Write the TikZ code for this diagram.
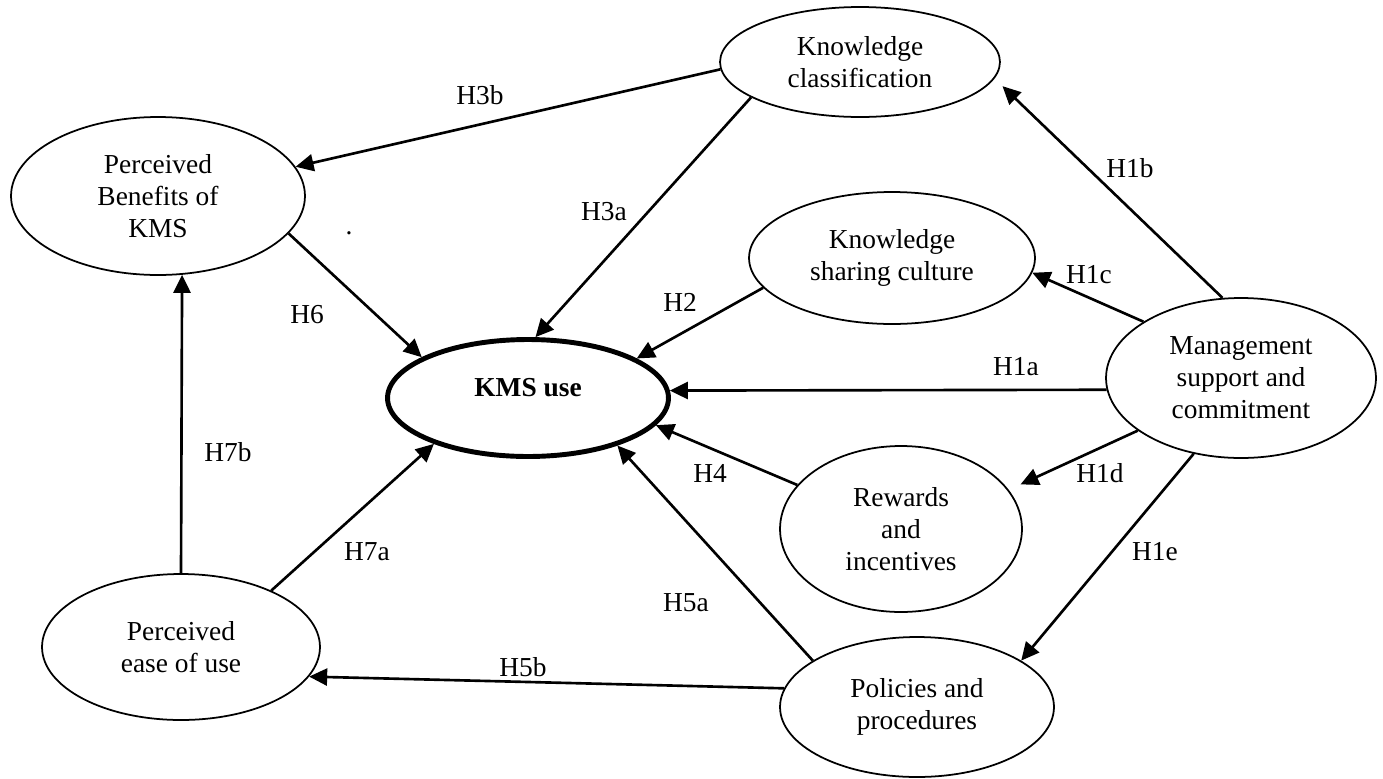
\documentclass[tikz,border=0pt]{standalone}
\usepackage{fontspec}
\setmainfont{Liberation Serif}
\usepackage{tikz}
\usetikzlibrary{shapes.geometric,arrows.meta}

\begin{document}
\begin{tikzpicture}[x=0.02cm, y=-0.02cm,
      var/.style={draw, ellipse, line width=1pt, inner sep=0pt, align=center,
                  font=\fontsize{15.6pt}{18.2pt}\selectfont},
      arr/.style={-{Triangle[length=0.36cm, width=0.34cm]}, line width=1.5pt},
      hyp/.style={inner sep=0pt, font=\fontsize{15.6pt}{18.2pt}\selectfont}]
    \useasboundingbox (0,0) rectangle (1383,778);
    % constructs
    \node[var, minimum width=5.88cm, minimum height=3.16cm] (pb) at (158,196)
         {Perceived\\ Benefits of\\ KMS};
    \node[var, minimum width=5.6cm, minimum height=2.2cm] (kc) at (860,62)
         {Knowledge\\ classification};
    \node[var, minimum width=5.72cm, minimum height=2.64cm] (ksc) at (892,258)
         {Knowledge\\ sharing culture};
    \node[var, line width=2.8pt, minimum width=5.62cm, minimum height=2.34cm,
          text depth=0.44cm] (kms) at (528,398) {\textbf{KMS use}};
    \node[var, minimum width=5.4cm, minimum height=3.2cm] (mgmt) at (1241,378)
         {Management\\ support and\\ commitment};
    \node[var, minimum width=4.84cm, minimum height=3.32cm] (rew) at (901,529)
         {Rewards\\ and\\ incentives};
    \node[var, minimum width=5.48cm, minimum height=2.8cm] (pol) at (917,707)
         {Policies and\\ procedures};
    \node[var, minimum width=5.56cm, minimum height=2.92cm] (peu) at (181,647)
         {Perceived\\ ease of use};
    % hypotheses
    \draw[arr] (kc.183) -- (pb.12);
    \draw[arr] (kc.198) -- (kms.83);
    \draw[arr] (pb.-16) -- (kms.159);
    \draw[arr] (ksc.193) -- (kms.20);
    \draw[arr] (mgmt.185) -- (kms.3);
    \draw[arr, shorten >=0.22cm] (mgmt.103) -- (kc.-7);
    \draw[arr] (mgmt.150) -- (ksc.-6);
    \draw[arr, shorten >=0.26cm] (mgmt.207) -- (rew.20);
    \draw[arr] (mgmt.238) -- (pol.24);
    \draw[arr] (rew.157) -- (kms.-12);
    \draw[arr] (pol.156) -- (kms.-28);
    \draw[arr] (pol.172) -- (peu.-13);
    \draw[arr] (peu.32) -- (kms.206);
    \draw[arr] (peu.90) -- (pb.-73);
    % labels
    \node[hyp] (h3b) at (480,95) {H3b};
    \node[hyp] (h3a) at (604,212) {H3a};
    \node[hyp] (h6) at (307,315) {H6};
    \node[hyp] (dot) at (349,233) {.};
    \node[hyp] (h2) at (680,302) {H2};
    \node[hyp] (h1a) at (1016,367) {H1a};
    \node[hyp] (h1b) at (1130,168) {H1b};
    \node[hyp] (h1c) at (1089,275) {H1c};
    \node[hyp] (h1d) at (1100,473) {H1d};
    \node[hyp] (h1e) at (1155,552) {H1e};
    \node[hyp] (h4) at (710,473) {H4};
    \node[hyp] (h5a) at (686,603) {H5a};
    \node[hyp] (h5b) at (523,667) {H5b};
    \node[hyp] (h7a) at (367,552) {H7a};
    \node[hyp] (h7b) at (228,452) {H7b};
\end{tikzpicture}
\end{document}
